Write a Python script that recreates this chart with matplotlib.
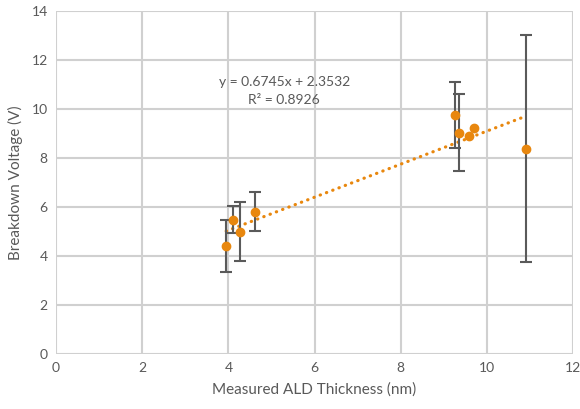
import numpy as np
import matplotlib.pyplot as plt

plt.rcParams['font.family'] = ['Lato', 'DejaVu Sans']

thickness = [3.95, 4.10, 4.26, 4.62, 9.26, 9.36, 9.59, 9.70, 10.91]
voltage = [4.41, 5.49, 4.99, 5.81, 9.76, 9.03, 8.91, 9.22, 8.38]
voltage_err = [1.06, 0.57, 1.20, 0.79, 1.35, 1.58, 0.0, 0.0, 4.63]

# linear trendline parameters
slope = 0.6745
intercept = 2.3532
r_squared = 0.8926

GRAY_TEXT = '#595959'
ORANGE = '#E8870E'

fig = plt.figure(figsize=(5.8, 4.09), dpi=100)
ax = fig.add_axes([0.0966, 0.1345, 0.8914, 0.8385])

ax.set_xlim(0, 12)
ax.set_ylim(0, 14)
ax.set_xticks(range(0, 13, 2))
ax.set_yticks(range(0, 15, 2))
ax.grid(True, color='#D0D0D0', linewidth=1.5)
ax.set_axisbelow(True)
for s in ax.spines.values():
    s.set_visible(False)
ax.tick_params(length=0, labelsize=10, labelcolor=GRAY_TEXT, pad=6)

# trendline
xs = np.array([min(thickness), max(thickness)])
ax.plot(xs, slope * xs + intercept, linestyle=(0, (0.1, 2.0)), color=ORANGE,
        linewidth=2.3, dash_capstyle='round', zorder=2)

# error bars only where there is an error
has_err = [e > 0 for e in voltage_err]
ex = [x for x, h in zip(thickness, has_err) if h]
ey = [y for y, h in zip(voltage, has_err) if h]
ee = [e for e, h in zip(voltage_err, has_err) if h]
ax.errorbar(ex, ey, yerr=ee, fmt='none', ecolor='#5A5A5A', elinewidth=1.5,
            capsize=4, capthick=1.5, zorder=3)
ax.plot(thickness, voltage, 'o', color=ORANGE, markersize=6, zorder=4)

ax.text(5.3, 11.1, 'y = %.4fx + %.4f' % (slope, intercept), fontsize=10,
        color=GRAY_TEXT, ha='center', va='center')
ax.text(5.3, 10.37, 'R² = %.4f' % r_squared, fontsize=10,
        color=GRAY_TEXT, ha='center', va='center')

ax.set_xlabel('Measured ALD Thickness (nm)', fontsize=11, color=GRAY_TEXT, labelpad=6)
ax.set_ylabel('Breakdown Voltage (V)', fontsize=11, color=GRAY_TEXT, labelpad=6)

fig.savefig('out.png', dpi=100)
